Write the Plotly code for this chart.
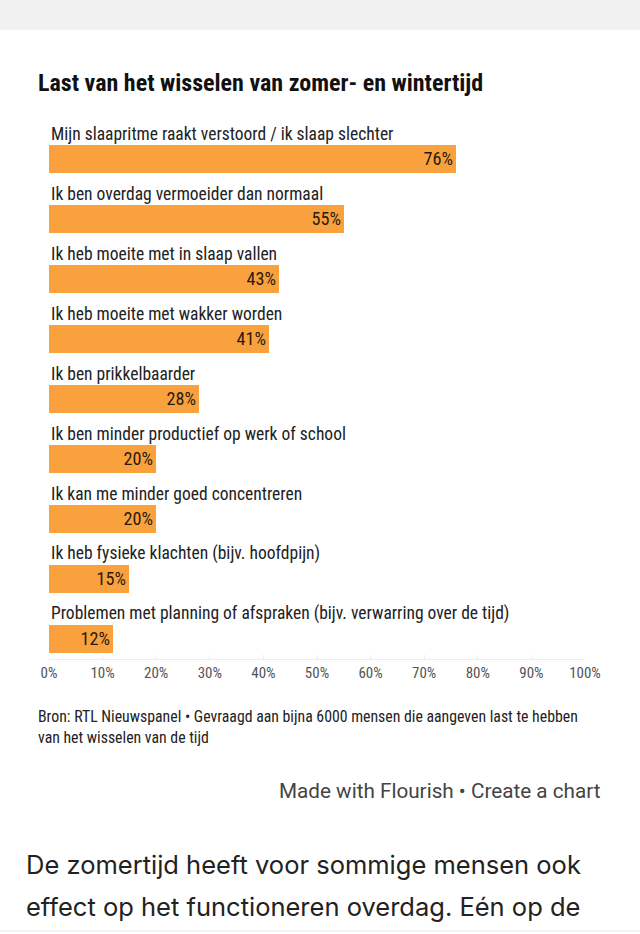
import plotly.graph_objects as go

# data
categories = [
    "Mijn slaapritme raakt verstoord / ik slaap slechter",
    "Ik ben overdag vermoeider dan normaal",
    "Ik heb moeite met in slaap vallen",
    "Ik heb moeite met wakker worden",
    "Ik ben prikkelbaarder",
    "Ik ben minder productief op werk of school",
    "Ik kan me minder goed concentreren",
    "Ik heb fysieke klachten (bijv. hoofdpijn)",
    "Problemen met planning of afspraken (bijv. verwarring over de tijd)",
]
values = [76, 55, 43, 41, 28, 20, 20, 15, 12]
tick_vals = [0, 10, 20, 30, 40, 50, 60, 70, 80, 90, 100]
tick_text = [f"{v}%" for v in tick_vals]

title = "Last van het wisselen van zomer- en wintertijd"
source = ("Bron: RTL Nieuwspanel • Gevraagd aan bijna 6000 mensen die aangeven last te hebben<br>"
          "van het wisselen van de tijd")
credit = "Made with Flourish • Create a chart"
body_lines = ["De zomertijd heeft voor sommige mensen ook",
              "effect op het functioneren overdag. Eén op de"]

COND = "Roboto Condensed, Liberation Sans Narrow, DejaVu Sans Condensed, Roboto, sans-serif"
ORANGE = "#f9a13c"

fig = go.Figure()
fig.add_trace(go.Bar(
    x=values,
    y=categories,
    orientation="h",
    marker=dict(color=ORANGE, line=dict(width=0)),
    width=0.47,
    text=[f"{v}%" for v in values],
    textposition="inside",
    insidetextanchor="end",
    textfont=dict(family=COND, size=19, color="#2a1a10"),
    cliponaxis=False,
    hoverinfo="skip",
))

# category labels above each bar
for cat in categories:
    fig.add_annotation(
        x=0, y=cat, xref="x", yref="y",
        text=cat, showarrow=False,
        xanchor="left", yanchor="bottom", yshift=13,
        font=dict(family=COND, size=17.5, color="#222"),
    )

fig.update_xaxes(
    range=[0, 100], tickvals=tick_vals, ticktext=tick_text,
    showgrid=False, zeroline=False,
    showline=True, linecolor="#ececec", linewidth=1,
    ticks="inside", ticklen=4, tickcolor="#ececec",
    tickfont=dict(family=COND, size=15, color="#555"),
    fixedrange=True,
)
fig.update_yaxes(
    range=[8.333, -0.6], showticklabels=False, showgrid=False,
    zeroline=False, showline=False, fixedrange=True,
)

# grey strip at the top of the page and thin rule at the bottom
fig.add_shape(type="rect", xref="paper", yref="paper",
              x0=-1, x1=2, y0=1 + 93 / 536, y1=2, fillcolor="#f1f1f1", line=dict(width=0), layer="below")
fig.add_shape(type="line", xref="paper", yref="paper",
              x0=-1, x1=2, y0=-272 / 536, y1=-272 / 536, line=dict(color="#e6e6e6", width=1))

fig.add_annotation(xref="paper", yref="paper", x=-0.024, y=1.0, yshift=40,
                   text=f"<b>{title}</b>", showarrow=False, xanchor="left", yanchor="middle",
                   font=dict(family=COND, size=24, color="#111"))
fig.add_annotation(xref="paper", yref="paper", x=-0.024, y=0, yshift=-68,
                   text=source, showarrow=False, xanchor="left", yanchor="middle", align="left",
                   font=dict(family=COND, size=15.8, color="#222"))
fig.add_annotation(xref="paper", yref="paper", x=1.034, y=0, yshift=-132,
                   text=credit, showarrow=False, xanchor="right", yanchor="middle",
                   font=dict(family="Roboto, sans-serif", size=20.7, color="#444"))
for line, shift in zip(body_lines, [-205, -247]):
    fig.add_annotation(xref="paper", yref="paper", x=-0.046, y=0, yshift=shift,
                       text=line, showarrow=False, xanchor="left", yanchor="middle",
                       font=dict(family="Inter, Roboto, sans-serif", size=25.5, color="#222"))

fig.update_layout(
    width=640, height=934,
    margin=dict(l=49, r=55, t=123, b=275),
    paper_bgcolor="white", plot_bgcolor="white",
    showlegend=False, bargap=0,
)

fig.write_html("out.html", config={"displayModeBar": False},
               post_script="document.body.style.margin='0';")
